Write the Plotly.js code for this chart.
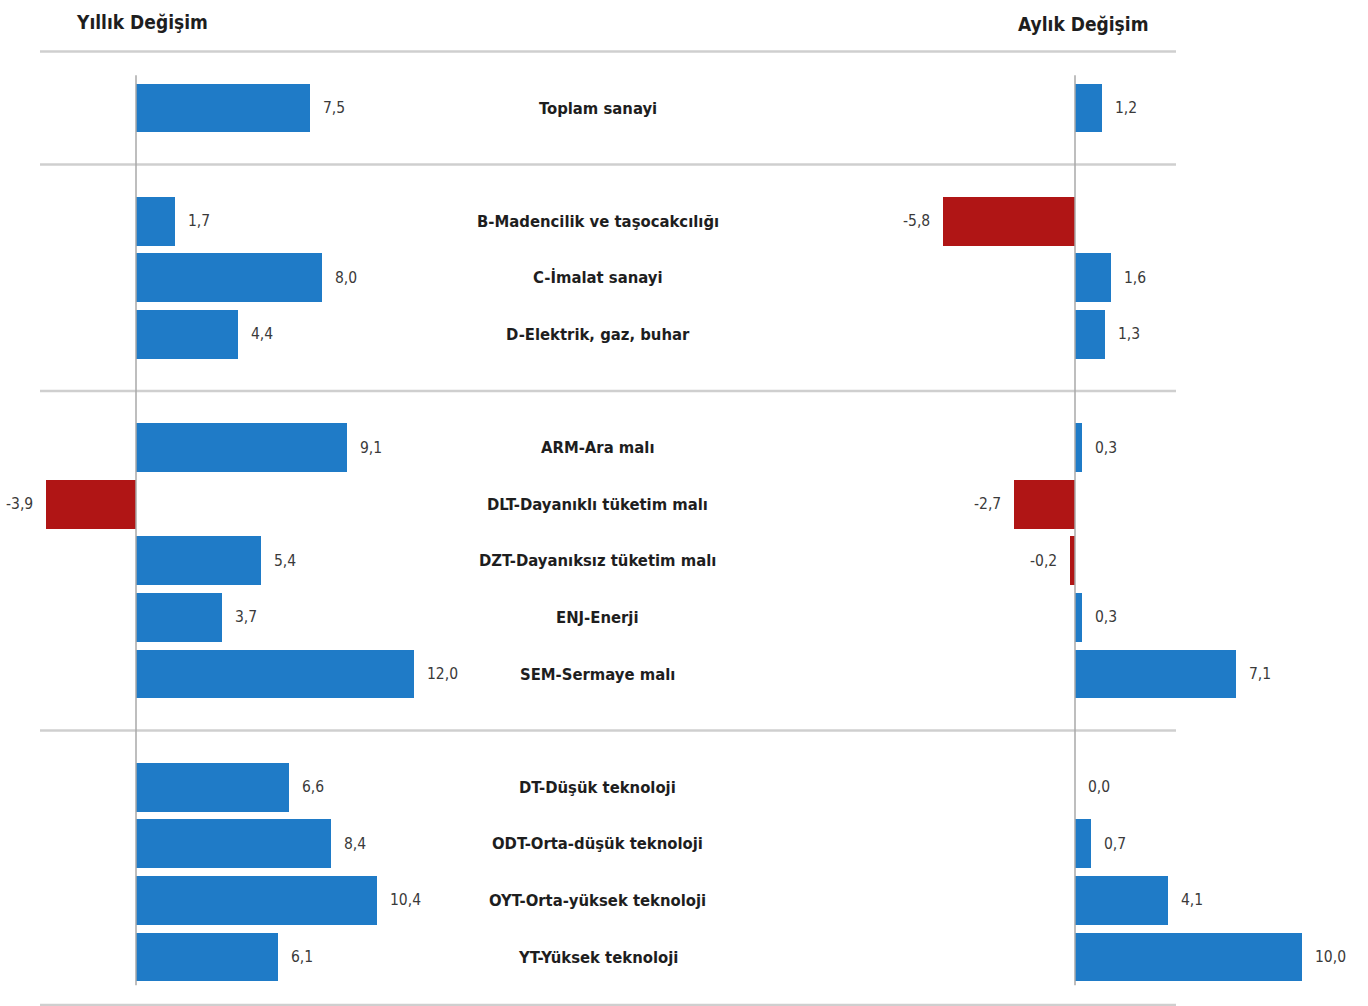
<!DOCTYPE html>
<html>
<head>
<meta charset="utf-8">
<script src="https://cdn.plot.ly/plotly-3.0.1.min.js"></script>
<style>
  html, body { margin: 0; padding: 0; background: #ffffff; }
  #chart { width: 1368px; height: 1006px; }
</style>
</head>
<body>
<div id="chart"></div>
<script>
// ---- Data ----
const categories = [
  "Toplam sanayi",
  "B-Madencilik ve taşocakcılığı",
  "C-İmalat sanayi",
  "D-Elektrik, gaz, buhar",
  "ARM-Ara malı",
  "DLT-Dayanıklı tüketim malı",
  "DZT-Dayanıksız tüketim malı",
  "ENJ-Enerji",
  "SEM-Sermaye malı",
  "DT-Düşük teknoloji",
  "ODT-Orta-düşük teknoloji",
  "OYT-Orta-yüksek teknoloji",
  "YT-Yüksek teknoloji"
];
const groups = [0, 1, 1, 1, 2, 2, 2, 2, 2, 3, 3, 3, 3];
const yearlyChange = [7.5, 1.7, 8.0, 4.4, 9.1, -3.9, 5.4, 3.7, 12.0, 6.6, 8.4, 10.4, 6.1];
const monthlyChange = [1.2, -5.8, 1.6, 1.3, 0.3, -2.7, -0.2, 0.3, 7.1, 0.0, 0.7, 4.1, 10.0];
const leftTitle = "Yıllık Değişim";
const rightTitle = "Aylık Değişim";

// ---- Derived ----
const slots = categories.map((c, i) => i + groups[i]);
const fmt = v => v.toFixed(1).replace(".", ",");
const BLUE = "#1f7bc7";
const RED = "#b01515";
const FONT = "'DejaVu Sans Condensed', 'Liberation Sans Narrow', 'Arial Narrow', sans-serif";

function barTrace(values, xa) {
  return {
    type: "bar",
    orientation: "h",
    x: values,
    y: slots,
    xaxis: xa,
    yaxis: "y",
    width: 0.86,
    marker: { color: values.map(v => v < 0 ? RED : BLUE), line: { width: 0 } },
    hoverinfo: "skip",
    showlegend: false
  };
}

const annotations = [];
function valueLabels(values, xref) {
  values.forEach((v, i) => {
    annotations.push({
      x: v, y: slots[i], xref: xref, yref: "y",
      text: fmt(v), showarrow: false,
      xanchor: v < 0 ? "right" : "left",
      xshift: v < 0 ? -11 : 11,
      yanchor: "middle",
      font: { family: FONT, size: 15.5, color: "#3a3a3a" }
    });
  });
}
valueLabels(yearlyChange, "x");
valueLabels(monthlyChange, "x2");

categories.forEach((c, i) => {
  annotations.push({
    x: 0.437, y: slots[i], xref: "paper", yref: "y",
    text: "<b>" + c + "</b>", showarrow: false,
    xanchor: "center", yanchor: "middle",
    font: { family: FONT, size: 16.5, color: "#1e1e1e" }
  });
});

annotations.push({
  x: 142 / 1368, y: 1 - 22 / 1006, xref: "paper", yref: "paper",
  text: "<b>" + leftTitle + "</b>", showarrow: false,
  xanchor: "center", yanchor: "middle",
  font: { family: FONT, size: 19, color: "#1e1e1e" }
});
annotations.push({
  x: 1083 / 1368, y: 1 - 24 / 1006, xref: "paper", yref: "paper",
  text: "<b>" + rightTitle + "</b>", showarrow: false,
  xanchor: "center", yanchor: "middle",
  font: { family: FONT, size: 19, color: "#1e1e1e" }
});

// separators: top, between groups, bottom
const shapes = [];
const sepSlots = [-1];
for (let i = 1; i < slots.length; i++) {
  if (groups[i] !== groups[i - 1]) sepSlots.push(slots[i] - 1);
}
sepSlots.push(slots[slots.length - 1] + 0.85);
sepSlots.forEach(s => {
  shapes.push({
    type: "line", xref: "paper", yref: "y",
    x0: 40 / 1368, x1: 1176 / 1368, y0: s, y1: s,
    line: { color: "#cfcfcf", width: 2.5 }
  });
});
// zero lines
["x", "x2"].forEach(xr => {
  shapes.push({
    type: "line", xref: xr, yref: "y",
    x0: 0, x1: 0, y0: -0.58, y1: slots[slots.length - 1] + 0.5,
    line: { color: "#a9a9a9", width: 1.5 }
  });
});

const step = 56.6;
const layout = {
  width: 1368,
  height: 1006,
  margin: { l: 0, r: 0, t: 0, b: 0, pad: 0 },
  paper_bgcolor: "#ffffff",
  plot_bgcolor: "rgba(0,0,0,0)",
  showlegend: false,
  bargap: 0,
  xaxis: {
    domain: [0, 0.36],
    range: [-136 / 23.2, (0.36 * 1368 - 136) / 23.2],
    visible: false, fixedrange: true
  },
  xaxis2: {
    domain: [0.6, 1],
    range: [(0.6 * 1368 - 1075) / 22.7, (1368 - 1075) / 22.7],
    visible: false, fixedrange: true
  },
  yaxis: {
    domain: [0, 1],
    range: [(1006 - 108) / step, -108 / step],
    visible: false, fixedrange: true
  },
  shapes: shapes,
  annotations: annotations
};

Plotly.newPlot("chart", [barTrace(yearlyChange, "x"), barTrace(monthlyChange, "x2")], layout, { displayModeBar: false, staticPlot: true });
</script>
</body>
</html>
